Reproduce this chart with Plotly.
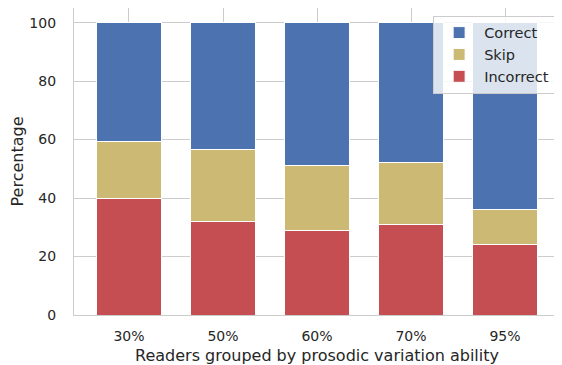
import plotly.graph_objects as go

categories = ["30%", "50%", "60%", "70%", "95%"]
incorrect = [39.7, 31.9, 29.0, 31.0, 24.2]
skip = [19.5, 24.6, 22.2, 21.1, 11.9]
correct = [100 - a - b for a, b in zip(incorrect, skip)]

colors = {"Correct": "#4C72B0", "Skip": "#CCB974", "Incorrect": "#C44E52"}

fig = go.Figure()
for name, vals in [("Incorrect", incorrect), ("Skip", skip), ("Correct", correct)]:
    fig.add_trace(go.Bar(
        x=categories, y=vals, name=name,
        marker=dict(color=colors[name], line=dict(color="white", width=1)),
    ))

tick_font = dict(family="DejaVu Sans", size=14, color="#262626")
title_font = dict(family="DejaVu Sans", size=16, color="#262626")
# page body has an 8px default margin, so the figure is offset by (8, 8)
fig.update_layout(
    barmode="stack", bargap=0.3,
    width=554, height=357,
    margin=dict(l=66, r=2, t=0, b=50, autoexpand=False),
    paper_bgcolor="white", plot_bgcolor="white",
    font=tick_font,
    legend=dict(
        x=0.99, y=0.975, xanchor="right", yanchor="top",
        bgcolor="rgba(255,255,255,0.8)", bordercolor="#cccccc", borderwidth=1,
        itemwidth=40,
        traceorder="reversed", font=dict(family="DejaVu Sans", size=14.5, color="#262626"),
    ),
)
fig.update_xaxes(
    type="category", range=[-0.585, 4.585], automargin=False,
    showgrid=True, gridcolor="#cccccc", gridwidth=1,
    showline=True, linecolor="#cccccc", linewidth=1.2, mirror=True,
    ticks="", ticklabelstandoff=8, tickfont=tick_font,
    title=dict(text="Readers grouped by prosodic variation ability", standoff=6, font=title_font),
)
fig.update_yaxes(
    range=[0, 105], tickvals=[0, 20, 40, 60, 80, 100], automargin=False,
    showgrid=True, gridcolor="#cccccc", gridwidth=1,
    showline=True, linecolor="#cccccc", linewidth=1.2, mirror=True,
    zeroline=False, ticks="", ticklabelstandoff=14, tickfont=tick_font,
    title=dict(text="Percentage", standoff=10, font=title_font),
)
fig.write_html("out.html")
